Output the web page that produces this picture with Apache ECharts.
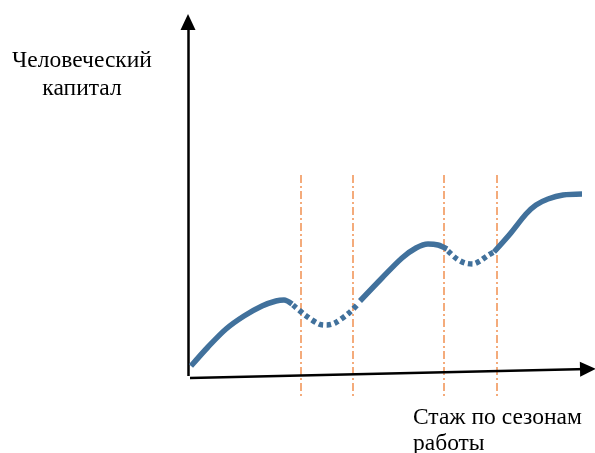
<!DOCTYPE html>
<html>
<head>
<meta charset="utf-8">
<script src="https://cdn.jsdelivr.net/npm/echarts@6/dist/echarts.min.js"></script>
<style>
  html, body { margin: 0; padding: 0; background: #fff; }
  #chart { width: 595px; height: 453px; }
</style>
</head>
<body>
<div id="chart"></div>
<script>
// curve pieces: solid = growth while working, dotted = off-season loss
const growth1 = [[3, 11], [20, 30], [38, 48], [56, 61], [74, 71], [88, 76], [96, 77], [104, 73]]
const dip1 = [[105, 72], [117, 62], [131, 53], [139, 52], [147, 54], [161, 64], [169, 72]]
const growth2 = [[172, 76], [194, 99], [214, 119], [228, 129], [240, 133], [250, 132], [259, 128]]
const dip2 = [[260, 126], [269, 118], [277, 114], [285, 113], [292, 116], [299, 121], [306, 125]]
const growth3 = [[306, 125], [322, 143], [338, 163], [348, 172], [360, 178], [375, 182], [394, 183]]

// season boundaries (x) and their vertical extent
const seasonBounds = [113, 165, 256, 309]
const boundTop = 202
const boundBottom = -19

const yLabel = 'Человеческий\nкапитал'
const xLabel = 'Стаж по сезонам\nработы'

const BLUE = '#41719C'
const ORANGE = '#ED7D31'
const FONT = '"Liberation Serif", "Times New Roman", serif'

const chart = echarts.init(document.getElementById('chart'))

const curve = (data, dotted) => ({
  type: 'line',
  data,
  smooth: 0.3,
  symbol: 'none',
  silent: true,
  lineStyle: {
    color: BLUE,
    width: 5.5,
    cap: 'butt',
    type: dotted ? [4.5, 3.5] : 'solid',
  },
  z: 5,
})

chart.setOption({
  animation: false,
  grid: { left: 0, right: 0, top: 0, bottom: 0 },
  xAxis: { type: 'value', min: -188, max: 407, show: false },
  yAxis: { type: 'value', min: -76, max: 377, show: false },
  title: [
    {
      text: yLabel,
      left: 82, top: 47,
      padding: 0,
      textAlign: 'center',
      textStyle: { fontFamily: FONT, fontSize: 23.5, fontWeight: 'normal', color: '#000', lineHeight: 28, align: 'center' },
    },
    {
      text: xLabel,
      left: 413, top: 405,
      padding: 0,
      textStyle: { fontFamily: FONT, fontSize: 23.5, fontWeight: 'normal', color: '#000', lineHeight: 26 },
    },
  ],
  series: [
    // axes with arrowheads
    {
      type: 'line',
      data: [],
      silent: true,
      markLine: {
        silent: true,
        animation: false,
        symbol: ['none', 'triangle'],
        symbolSize: [15, 16],
        label: { show: false },
        lineStyle: { color: '#000', width: 2.5, type: 'solid' },
        emphasis: { disabled: true },
        data: [
          [{ coord: [0, 1] }, { coord: [0, 355] }],
          [{ coord: [2, -1] }, { coord: [400, 8] }],
        ],
      },
      z: 6,
    },
    ...seasonBounds.map(x => ({
      type: 'line',
      data: [[x, boundTop], [x, boundBottom]],
      symbol: 'none',
      silent: true,
      lineStyle: { color: ORANGE, width: 1.5, opacity: 0.85, type: [8, 3, 2, 3] },
      z: 3,
    })),
    curve(growth1, false),
    curve(dip1, true),
    curve(growth2, false),
    curve(dip2, true),
    curve(growth3, false),
  ],
})
</script>
</body>
</html>
